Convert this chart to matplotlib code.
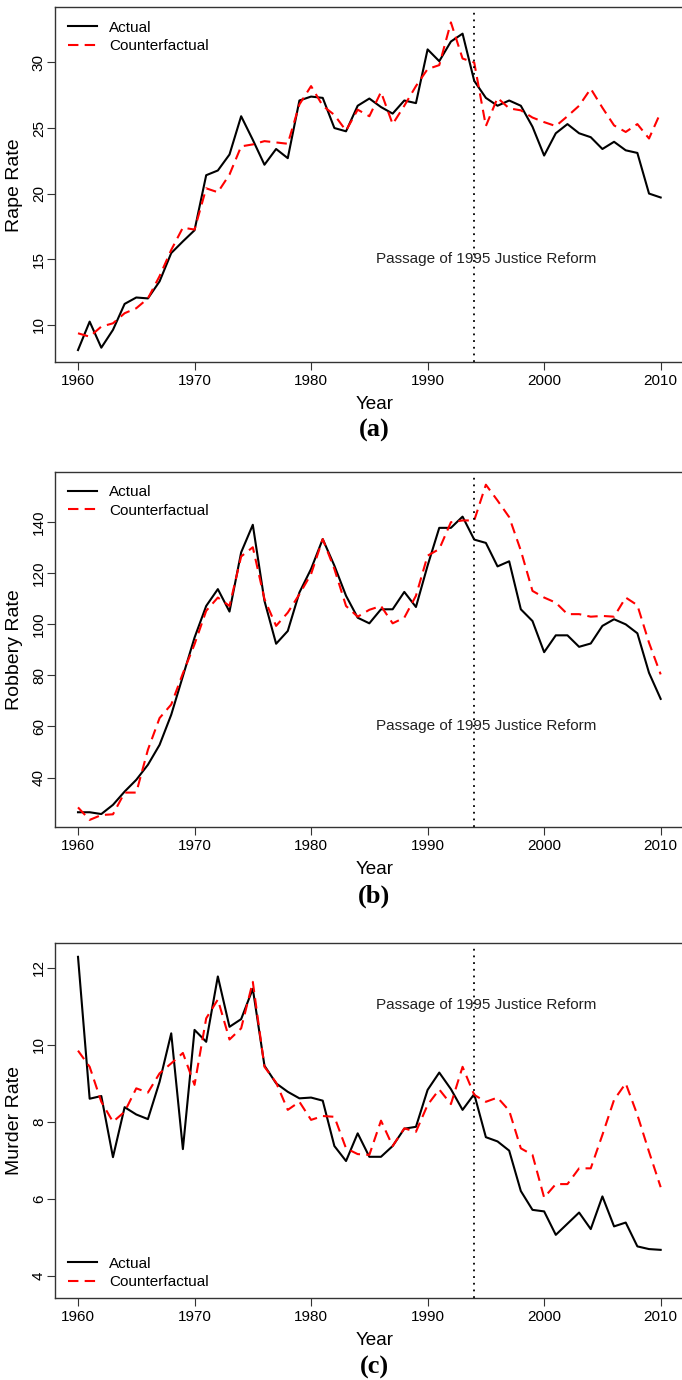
import numpy as np
import matplotlib
matplotlib.use("Agg")
import matplotlib.pyplot as plt

plt.rcParams['font.family'] = ['Liberation Sans', 'DejaVu Sans']

years = list(range(1960, 2011))

rape_actual = [8.06, 10.23, 8.24, 9.6, 11.58, 12.07, 12.0, 13.3, 15.46, 16.35,
               17.2, 21.4, 21.76, 22.98, 25.9, 24.1, 22.2, 23.4, 22.7, 27.1,
               27.4, 27.3, 25.0, 24.75, 26.7, 27.25, 26.6, 26.1, 27.1, 26.9,
               31.0, 30.1, 31.6, 32.2, 28.6, 27.3, 26.7, 27.1, 26.7, 25.1,
               22.9, 24.6, 25.3, 24.6, 24.3, 23.4, 23.95, 23.3, 23.1, 20.0, 19.7]
rape_cf = [9.34, 9.08, 9.85, 10.1, 10.87, 11.25, 12.0, 13.7, 15.7, 17.4,
           17.25, 20.4, 20.1, 21.45, 23.6, 23.75, 24.0, 23.9, 23.8, 26.8,
           28.2, 26.7, 26.0, 24.8, 26.4, 25.9, 27.75, 25.3, 26.7, 28.2,
           29.5, 29.8, 33.06, 30.3, 30.0, 25.15, 27.3, 26.5, 26.35, 25.8,
           25.45, 25.15, 25.9, 26.7, 28.0, 26.55, 25.2, 24.7, 25.3, 24.2, 26.2]

robbery_actual = [26.4, 26.4, 25.7, 29.3, 34.5, 39.1, 45.0, 52.8, 64.6, 79.7,
                  94.8, 107.2, 113.8, 105.0, 128.2, 139.0, 109.2, 92.4, 97.4, 112.5,
                  121.7, 133.4, 123.0, 111.2, 102.6, 100.4, 105.9, 105.9, 112.7, 106.8,
                  123.0, 137.8, 137.8, 142.2, 133.2, 131.9, 122.7, 124.7, 105.9, 101.3,
                  89.1, 95.7, 95.7, 91.2, 92.5, 99.4, 102.0, 100.0, 96.5, 81.0, 70.8]
robbery_cf = [28.3, 23.4, 25.3, 25.6, 34.1, 34.1, 50.9, 63.3, 68.6, 80.8,
              92.2, 105.3, 110.5, 107.2, 126.6, 130.2, 109.9, 99.4, 104.6, 111.8,
              119.7, 133.4, 121.7, 107.2, 103.0, 105.7, 107.2, 100.4, 102.6, 111.2,
              126.9, 129.5, 140.0, 140.7, 140.7, 154.7, 148.5, 142.0, 128.9, 113.1,
              110.5, 108.5, 104.0, 104.0, 103.0, 103.3, 103.0, 110.5, 107.5, 92.8, 80.4]

murder_actual = [12.29, 8.60, 8.67, 7.08, 8.38, 8.19, 8.07, 9.04, 10.30, 7.29,
                 10.39, 10.08, 11.78, 10.47, 10.67, 11.46, 9.46, 9.0, 8.78, 8.61,
                 8.63, 8.55, 7.37, 6.98, 7.70, 7.09, 7.09, 7.37, 7.82, 7.87,
                 8.83, 9.28, 8.85, 8.31, 8.72, 7.60, 7.49, 7.25, 6.20, 5.71,
                 5.67, 5.06, 5.35, 5.64, 5.21, 6.06, 5.28, 5.38, 4.76, 4.69, 4.67]
murder_cf = [9.85, 9.43, 8.52, 8.0, 8.26, 8.87, 8.76, 9.26, 9.52, 9.79,
             8.96, 10.69, 11.18, 10.14, 10.43, 11.64, 9.43, 9.02, 8.31, 8.52,
             8.05, 8.15, 8.13, 7.31, 7.16, 7.14, 8.03, 7.37, 7.83, 7.74,
             8.44, 8.84, 8.46, 9.43, 8.70, 8.52, 8.63, 8.29, 7.31, 7.14,
             6.03, 6.38, 6.38, 6.79, 6.79, 7.66, 8.57, 9.0, 8.18, 7.22, 6.30]

panels = [
    # series, ylabel, ylim, yticks, note y, legend loc, panel tag, axes rect
    (rape_actual, rape_cf, 'Rape Rate', (7.15, 34.2), [10, 15, 20, 25, 30], 15.0,
     'upper left', '(a)', [0.0802, 0.7377, 0.9227, 0.2569]),
    (robbery_actual, robbery_cf, 'Robbery Rate', (20.5, 159.8),
     [40, 60, 80, 100, 120, 140], 60.3, 'upper left', '(b)',
     [0.0802, 0.4005, 0.9227, 0.2577]),
    (murder_actual, murder_cf, 'Murder Rate', (3.41, 12.64), [4, 6, 8, 10, 12], 11.03,
     'lower left', '(c)', [0.0802, 0.0592, 0.9227, 0.2572]),
]

fig = plt.figure(figsize=(6.82, 13.8), dpi=100)

for actual, cf, ylab, ylim, yticks, note_y, loc, tag, rect in panels:
    ax = fig.add_axes(rect)
    ax.plot(years, actual, color='black', lw=1.5, label='Actual')
    ax.plot(years, cf, color='#ff0000', lw=1.5, dashes=(5, 3), label='Counterfactual')
    ax.axvline(1994, color='black', lw=1.3, ls=(0, (1, 2.7)))
    ax.text(1995, note_y, 'Passage of 1995 Justice Reform', ha='center', va='center',
            fontsize=11, color='#222222')

    ax.set_xlim(1958, 2012)
    ax.set_ylim(*ylim)
    ax.set_xticks([1960, 1970, 1980, 1990, 2000, 2010])
    ax.set_yticks(yticks)
    ax.tick_params(axis='both', direction='out', length=5.8, width=0.8,
                   labelsize=11, color='#333333')
    ax.tick_params(axis='x', pad=2.5)
    ax.tick_params(axis='y', pad=0.5, labelrotation=90)
    plt.setp(ax.get_yticklabels(), va='center')
    for sp in ax.spines.values():
        sp.set_linewidth(1.0)
        sp.set_color('#333333')

    ax.set_xlabel('Year', fontsize=13.6, va='baseline')
    ax.xaxis.set_label_coords(0.508, -0.1324)
    ax.set_ylabel(ylab, fontsize=14, va='center')
    ax.yaxis.set_label_coords(-0.0642, 0.5)

    ax.text(0.508, -0.2113, tag, transform=ax.transAxes, ha='center', va='baseline',
            fontsize=19, fontweight='bold', family=['Liberation Serif', 'DejaVu Serif'])

    if loc == 'upper left':
        anchor = (0.0211, 0.9625)
    else:
        anchor = (0.0211, 0.025)
    ax.legend(loc=loc, bbox_to_anchor=anchor, frameon=False, fontsize=11,
              borderpad=0, borderaxespad=0, handlelength=1.9, handletextpad=0.78,
              labelspacing=0.31)

fig.savefig('out.png', dpi=100)
